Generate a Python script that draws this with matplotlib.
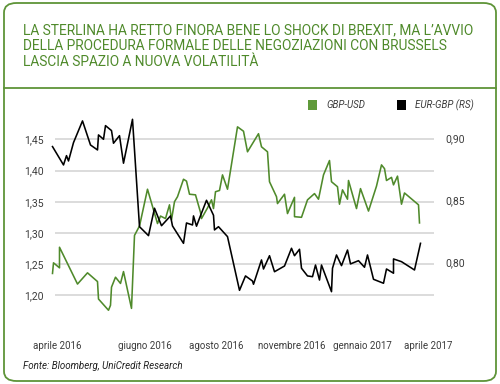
import matplotlib
matplotlib.use("Agg")
import matplotlib.pyplot as plt
from matplotlib.patches import FancyBboxPatch, Patch
from matplotlib.lines import Line2D

# days counted from 1 April 2016
gbpusd_day = [0, 1, 7, 7, 25, 35, 45, 46, 56, 58, 59, 63, 68, 71, 79, 82, 87, 95, 101, 105,
              108, 113, 117, 119, 122, 125, 131, 134, 137, 143, 148, 149, 155, 159, 161, 163,
              167, 170, 175, 179, 185, 191, 195, 206, 209, 215, 217, 224, 225, 232, 235, 242,
              242, 249, 255, 262, 266, 271, 277, 279, 285, 287, 290, 295, 296, 304, 308, 316,
              324, 329, 332, 334, 339, 341, 345, 349, 352, 366, 367]
gbpusd = [1.235, 1.252, 1.244, 1.277, 1.218, 1.236, 1.222, 1.194, 1.176, 1.184, 1.213, 1.229,
          1.219, 1.238, 1.179, 1.296, 1.311, 1.370, 1.337, 1.315, 1.327, 1.323, 1.345, 1.321,
          1.350, 1.358, 1.386, 1.383, 1.362, 1.361, 1.333, 1.323, 1.340, 1.353, 1.339, 1.366,
          1.368, 1.393, 1.370, 1.410, 1.470, 1.463, 1.430, 1.459, 1.438, 1.430, 1.382, 1.358,
          1.347, 1.362, 1.331, 1.357, 1.326, 1.325, 1.353, 1.363, 1.354, 1.393, 1.416, 1.382,
          1.374, 1.346, 1.369, 1.354, 1.384, 1.339, 1.371, 1.335, 1.375, 1.409, 1.403, 1.384,
          1.389, 1.377, 1.391, 1.346, 1.364, 1.345, 1.316]

eurgbp_day = [0, 11, 14, 16, 21, 30, 38, 45, 46, 51, 53, 59, 61, 67, 71, 80, 87, 96, 102, 109,
              118, 120, 131, 134, 140, 141, 144, 147, 154, 161, 162, 166, 175, 187, 193, 200,
              201, 209, 211, 217, 222, 232, 239, 242, 247, 249, 255, 260, 263, 267, 269, 279,
              280, 284, 289, 295, 298, 306, 312, 315, 321, 331, 334, 341, 341, 349, 362, 368]
eurgbp = [0.8936, 0.8788, 0.8863, 0.8820, 0.8968, 0.9143, 0.8949, 0.8909, 0.9030, 0.8995,
          0.9105, 0.9065, 0.8963, 0.9024, 0.8802, 0.9156, 0.8290, 0.8218, 0.8439, 0.8298,
          0.8377, 0.8296, 0.8156, 0.8320, 0.8304, 0.8377, 0.8294, 0.8358, 0.8503, 0.8382,
          0.8264, 0.8290, 0.8210, 0.7777, 0.7893, 0.7852, 0.7826, 0.8022, 0.7949, 0.8056,
          0.7927, 0.7973, 0.8116, 0.8056, 0.8108, 0.7955, 0.7893, 0.7887, 0.7981, 0.7860,
          0.7981, 0.7766, 0.7955, 0.8062, 0.7976, 0.8102, 0.7990, 0.8016, 0.7963, 0.8062,
          0.7866, 0.7834, 0.7949, 0.7915, 0.8030, 0.8008, 0.7941, 0.8156]

left_ticks = [1.20, 1.25, 1.30, 1.35, 1.40, 1.45]
right_ticks = [0.80, 0.85, 0.90]
month_labels = ["aprile 2016", "giugno 2016", "agosto 2016", "novembre 2016",
                "gennaio 2017", "aprile 2017"]
month_pos = [4.5, 92.5, 163.5, 239.5, 309.5, 375.5]

title = ("LA STERLINA HA RETTO FINORA BENE LO SHOCK DI BREXIT, MA L\u2019AVVIO\n"
         "DELLA PROCEDURA FORMALE DELLE NEGOZIAZIONI CON BRUSSELS\n"
         "LASCIA SPAZIO A NUOVA VOLATILIT\u00c0")

green = "#4f8a2b"
frame_green = "#5e9438"
grey = "#3c3c3c"

plt.rcParams['font.family'] = ['Roboto', 'DejaVu Sans']

fig = plt.figure(figsize=(5, 3.84), dpi=100)

# frame and title separator
fig.patches.append(FancyBboxPatch((4 / 500, 3 / 384), 492 / 500, 378 / 384,
                                  boxstyle="round,pad=0,rounding_size=0.025",
                                  transform=fig.transFigure, fill=False,
                                  edgecolor=frame_green, linewidth=1.3))
fig.lines.append(Line2D([4 / 500, 496 / 500], [1 - 87.5 / 384] * 2,
                        transform=fig.transFigure, color=frame_green, linewidth=1.3))

fig.text(23 / 500, 1 - 23 / 384, title, color=green, fontsize=9.9,
         va='top', ha='left', linespacing=1.2)

ax = fig.add_axes([55 / 500, 1 - 315 / 384, 379 / 500, 205 / 384])
ax2 = ax.twinx()

ax.plot(gbpusd_day, gbpusd, color=green, lw=1.15, clip_on=False, zorder=3)
ax2.plot(eurgbp_day, eurgbp, color="black", lw=1.15, clip_on=False, zorder=3)

ax.set_xlim(2.5, 381.5)
ax.set_ylim(1.1684, 1.497)
ax2.set_ylim(0.7578, 0.9231)

ax.set_yticks(left_ticks)
ax.set_yticklabels([f"{v:.2f}".replace(".", ",") for v in left_ticks])
ax2.set_yticks(right_ticks)
ax2.set_yticklabels([f"{v:.2f}".replace(".", ",") for v in right_ticks])
ax.set_xticks(month_pos)
ax.set_xticklabels(month_labels)

ax.grid(axis='y', color="#d2d2d2", lw=1.1)
ax.set_axisbelow(True)
for a in (ax, ax2):
    for s in a.spines.values():
        s.set_visible(False)
ax.tick_params(axis='y', length=0, pad=8, labelsize=7.5, labelcolor=grey)
ax2.tick_params(axis='y', length=0, pad=8, labelsize=7.5, labelcolor=grey)
ax.tick_params(axis='x', length=0, pad=19, labelsize=7, labelcolor=grey)

handles = [Patch(facecolor="#5f9a3a", edgecolor="none"),
           Patch(facecolor="black", edgecolor="none")]
fig.legend(handles, ["GBP-USD", "EUR-GBP (RS)"], loc='center left',
           bbox_to_anchor=(303 / 500, 1 - 105 / 384), ncol=2, frameon=False,
           borderpad=0, handlelength=0.98, handleheight=1.2, handletextpad=0.93,
           columnspacing=3.2, prop={'size': 7, 'style': 'italic'}, labelcolor=grey)

fig.text(23 / 500, 1 - 366 / 384, "Fonte: Bloomberg, UniCredit Research",
         fontsize=7, style='italic', color="#222222", va='center', ha='left')

fig.savefig("out.png", dpi=100)
